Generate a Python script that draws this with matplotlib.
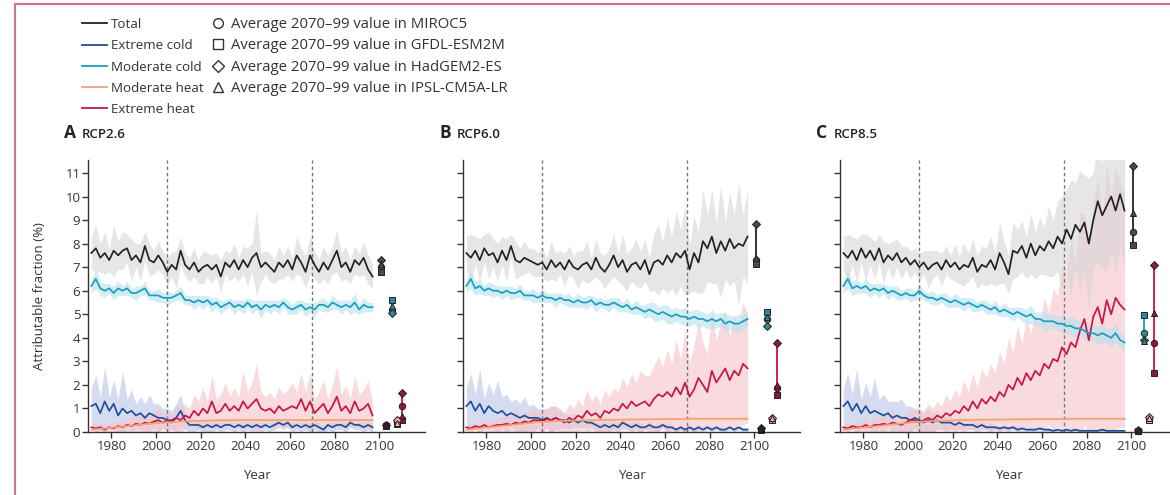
import numpy as np
import matplotlib
matplotlib.use("Agg")
import matplotlib.pyplot as plt
from matplotlib.lines import Line2D
from matplotlib.patches import Rectangle

plt.rcParams['font.family'] = ['Open Sans', 'DejaVu Sans']

# years of the annual series (every second year)
years = np.arange(1971, 2098, 2)

# ---------------- RCP2.6 ----------------
total_a = [7.6, 7.8, 7.4, 7.6, 7.3, 7.7, 7.5, 7.7,
           7.8, 7.3, 7.5, 7.2, 7.9, 7.3, 7.2, 7.5,
           7.2, 6.8, 7.1, 6.9, 7.7, 7.1, 6.9, 7.2,
           6.8, 7.0, 7.1, 6.9, 7.1, 6.6, 7.2, 7.0,
           7.3, 6.9, 7.3, 7.0, 7.4, 7.6, 7.0, 7.2,
           7.0, 6.8, 7.2, 7.0, 7.3, 6.9, 7.5, 7.2,
           6.8, 7.5, 7.1, 6.8, 7.2, 6.9, 7.3, 7.7,
           7.0, 7.2, 6.8, 7.3, 7.1, 7.4, 6.9, 6.6]
total_a_sd = [0.7, 1.0, 0.6, 0.9, 0.5, 1.1, 0.6, 0.8,
              0.6, 0.9, 0.5, 0.8, 0.6, 0.7, 0.5, 0.6,
              0.5, 0.6, 0.5, 0.8, 0.6, 0.5, 0.5, 0.6,
              0.5, 0.7, 0.5, 0.6, 0.5, 0.7, 0.5, 0.6,
              0.7, 0.5, 0.6, 0.8, 0.6, 1.8, 0.6, 0.5,
              0.6, 0.5, 0.7, 0.5, 0.6, 0.5, 0.8, 0.6,
              0.7, 0.8, 0.6, 0.5, 0.7, 0.6, 0.6, 0.9,
              0.6, 0.7, 0.5, 0.6, 0.5, 0.7, 0.6, 0.5]
ecold_a = [1.1, 1.2, 0.8, 1.3, 0.9, 1.2, 0.7, 1.0,
           0.8, 0.9, 0.7, 0.8, 0.6, 0.8, 0.7, 0.6,
           0.6, 0.5, 0.5, 0.6, 0.9, 0.5, 0.3, 0.3,
           0.3, 0.2, 0.3, 0.2, 0.3, 0.2, 0.3, 0.3,
           0.2, 0.3, 0.2, 0.3, 0.2, 0.3, 0.2, 0.3,
           0.2, 0.3, 0.4, 0.3, 0.4, 0.2, 0.3, 0.2,
           0.3, 0.2, 0.3, 0.2, 0.1, 0.3, 0.2, 0.3,
           0.3, 0.2, 0.4, 0.3, 0.3, 0.2, 0.3, 0.2]
ecold_a_sd = [0.8, 1.2, 0.7, 1.5, 0.6, 1.0, 0.7, 1.6,
              0.6, 0.9, 0.5, 0.7, 0.6, 0.8, 0.5, 0.6,
              0.4, 0.5, 0.4, 0.6, 0.7, 0.4, 0.3, 0.3,
              0.2, 0.2, 0.3, 0.2, 0.2, 0.2, 0.2, 0.2,
              0.2, 0.2, 0.2, 0.2, 0.2, 0.2, 0.2, 0.2,
              0.2, 0.2, 0.2, 0.2, 0.2, 0.2, 0.2, 0.2,
              0.2, 0.2, 0.2, 0.2, 0.2, 0.2, 0.2, 0.2,
              0.2, 0.2, 0.2, 0.2, 0.2, 0.2, 0.2, 0.2]
mcold_a = [6.2, 6.5, 6.1, 6.0, 6.1, 5.9, 6.1, 6.0,
           6.1, 5.9, 5.9, 6.0, 6.1, 5.8, 5.8, 5.8,
           5.7, 5.7, 5.7, 5.8, 5.9, 5.6, 5.6, 5.5,
           5.6, 5.5, 5.6, 5.4, 5.5, 5.3, 5.4, 5.5,
           5.3, 5.4, 5.3, 5.5, 5.3, 5.4, 5.2, 5.4,
           5.3, 5.4, 5.3, 5.5, 5.3, 5.2, 5.3, 5.4,
           5.2, 5.3, 5.2, 5.4, 5.4, 5.3, 5.5, 5.4,
           5.3, 5.4, 5.3, 5.5, 5.2, 5.4, 5.3, 5.3]
mcold_a_sd = [0.3, 0.4, 0.3, 0.3, 0.2, 0.3, 0.3, 0.2,
              0.3, 0.2, 0.3, 0.2, 0.3, 0.2, 0.2, 0.3,
              0.2, 0.3, 0.2, 0.2, 0.3, 0.2, 0.2, 0.3,
              0.2, 0.3, 0.2, 0.3, 0.2, 0.3, 0.2, 0.2,
              0.3, 0.2, 0.3, 0.2, 0.3, 0.2, 0.4, 0.2,
              0.3, 0.2, 0.3, 0.2, 0.3, 0.2, 0.3, 0.2,
              0.3, 0.2, 0.3, 0.2, 0.3, 0.2, 0.3, 0.2,
              0.3, 0.2, 0.3, 0.4, 0.2, 0.3, 0.2, 0.2]
mheat_a = [0.10, 0.12, 0.14, 0.15, 0.17, 0.19, 0.21, 0.23,
           0.25, 0.27, 0.29, 0.31, 0.33, 0.35, 0.37, 0.38,
           0.40, 0.41, 0.42, 0.43, 0.44, 0.45, 0.46, 0.47,
           0.47, 0.48, 0.48, 0.49, 0.49, 0.50, 0.50, 0.50,
           0.50, 0.50, 0.51, 0.50, 0.51, 0.50, 0.51, 0.50,
           0.50, 0.51, 0.50, 0.51, 0.50, 0.51, 0.50, 0.51,
           0.50, 0.51, 0.50, 0.51, 0.50, 0.51, 0.50, 0.51,
           0.50, 0.51, 0.50, 0.51, 0.50, 0.51, 0.50, 0.50]
mheat_a_sd = [0.05] * 8 + [0.08] * 8 + [0.10] * 48
eheat_a = [0.20, 0.15, 0.20, 0.10, 0.20, 0.15, 0.25, 0.20,
           0.30, 0.25, 0.35, 0.30, 0.40, 0.35, 0.45, 0.50,
           0.40, 0.50, 0.40, 0.60, 0.50, 0.70, 0.60, 0.90,
           0.70, 1.00, 0.80, 1.30, 0.80, 0.90, 1.20, 0.90,
           1.10, 0.90, 1.30, 1.00, 1.20, 1.40, 1.00, 0.90,
           1.00, 0.80, 1.10, 0.90, 1.00, 1.10, 1.00, 1.40,
           0.90, 1.30, 0.80, 1.00, 1.20, 0.80, 1.10, 1.50,
           0.90, 1.10, 0.80, 1.30, 0.90, 1.00, 1.20, 0.70]
eheat_a_sd = [0.1, 0.2, 0.1, 0.2, 0.2, 0.3, 0.2, 0.3,
              0.3, 0.4, 0.3, 0.5, 0.3, 0.4, 0.4, 0.5,
              0.3, 0.4, 0.3, 0.5, 0.6, 0.5, 0.4, 0.7,
              0.6, 0.9, 0.5, 1.1, 0.6, 0.7, 0.9, 0.6,
              0.8, 0.6, 1.3, 0.7, 0.9, 1.5, 0.7, 0.6,
              0.7, 0.6, 0.8, 0.7, 0.8, 1.0, 0.7, 1.1,
              0.8, 1.2, 0.6, 0.7, 1.0, 0.6, 0.9, 1.3,
              0.7, 0.9, 0.6, 1.1, 0.7, 0.8, 1.0, 0.6]

# ---------------- RCP6.0 ----------------
total_b = [7.6, 7.4, 7.7, 7.3, 7.8, 7.5, 7.6, 7.2,
           7.7, 7.3, 7.9, 7.3, 7.2, 7.4, 7.3, 7.2,
           7.1, 7.2, 6.9, 7.3, 7.0, 7.2, 6.9, 7.3,
           7.0, 6.9, 7.1, 7.2, 6.9, 7.4, 7.0, 6.8,
           7.1, 7.5, 7.0, 7.3, 6.8, 7.1, 7.2, 6.9,
           7.3, 6.7, 7.2, 7.3, 7.1, 7.5, 7.2, 7.6,
           7.4, 7.7, 6.9, 7.6, 7.2, 8.1, 7.8, 8.3,
           7.6, 8.1, 7.7, 8.2, 7.8, 8.0, 7.9, 8.3]
total_b_sd = [0.7, 1.0, 0.6, 0.9, 0.6, 1.0, 0.6, 0.8,
              0.6, 0.9, 0.5, 0.8, 0.6, 0.7, 0.5, 0.6,
              0.5, 0.6, 0.5, 0.8, 0.6, 0.5, 0.7, 0.6,
              0.5, 0.8, 0.6, 0.9, 0.5, 0.8, 0.6, 0.7,
              0.7, 0.9, 0.6, 1.1, 0.8, 0.7, 1.0, 0.8,
              0.9, 0.7, 1.2, 1.5, 1.0, 1.6, 1.1, 1.8,
              1.2, 1.9, 1.0, 1.6, 1.3, 2.2, 1.4, 2.0,
              1.3, 2.4, 1.2, 2.0, 1.4, 2.6, 1.3, 2.0]
ecold_b = [1.1, 1.3, 0.9, 1.2, 0.8, 1.1, 0.9, 0.8,
           0.9, 0.7, 0.8, 0.7, 0.6, 0.7, 0.6, 0.6,
           0.6, 0.5, 0.6, 0.5, 0.6, 0.5, 0.5, 0.4,
           0.5, 0.4, 0.5, 0.4, 0.4, 0.3, 0.2, 0.3,
           0.2, 0.3, 0.2, 0.4, 0.3, 0.2, 0.3, 0.2,
           0.2, 0.3, 0.2, 0.2, 0.3, 0.2, 0.2, 0.1,
           0.2, 0.1, 0.2, 0.1, 0.2, 0.1, 0.2, 0.1,
           0.2, 0.1, 0.1, 0.2, 0.1, 0.2, 0.1, 0.1]
ecold_b_sd = [0.8, 1.2, 0.7, 1.5, 0.6, 1.0, 0.7, 1.4,
              0.6, 0.9, 0.5, 0.7, 0.6, 0.8, 0.5, 0.6,
              0.4, 0.5, 0.4, 0.6, 0.5, 0.4, 0.3, 0.3,
              0.3, 0.2, 0.3, 0.2, 0.2, 0.2, 0.2, 0.2,
              0.2, 0.2, 0.2, 0.2, 0.2, 0.2, 0.2, 0.2,
              0.1, 0.2, 0.1, 0.2, 0.1, 0.2, 0.1, 0.1,
              0.1, 0.1, 0.1, 0.1, 0.1, 0.1, 0.1, 0.1,
              0.1, 0.1, 0.1, 0.1, 0.1, 0.1, 0.1, 0.1]
mcold_b = [6.2, 6.5, 6.1, 6.2, 6.0, 6.1, 6.0, 6.0,
           5.9, 6.0, 5.9, 5.9, 6.0, 5.8, 5.8, 5.8,
           5.7, 5.8, 5.7, 5.7, 5.6, 5.7, 5.6, 5.6,
           5.5, 5.6, 5.5, 5.5, 5.6, 5.4, 5.5, 5.4,
           5.4, 5.5, 5.4, 5.3, 5.4, 5.2, 5.3, 5.2,
           5.1, 5.2, 5.1, 5.0, 5.1, 5.0, 4.9, 5.0,
           4.9, 4.9, 4.8, 4.9, 4.8, 4.8, 4.7, 4.8,
           4.7, 4.8, 4.6, 4.7, 4.6, 4.6, 4.7, 4.8]
mcold_b_sd = [0.3, 0.4, 0.3, 0.3, 0.2, 0.3, 0.3, 0.2,
              0.3, 0.2, 0.3, 0.2, 0.3, 0.2, 0.2, 0.3,
              0.2, 0.3, 0.2, 0.2, 0.3, 0.2, 0.2, 0.3,
              0.2, 0.3, 0.2, 0.3, 0.2, 0.3, 0.2, 0.2,
              0.3, 0.2, 0.3, 0.2, 0.3, 0.2, 0.3, 0.2,
              0.3, 0.3, 0.4, 0.3, 0.3, 0.4, 0.3, 0.3,
              0.3, 0.4, 0.3, 0.3, 0.4, 0.3, 0.3, 0.4,
              0.3, 0.3, 0.4, 0.3, 0.3, 0.4, 0.3, 0.3]
mheat_b = [0.10, 0.12, 0.14, 0.16, 0.18, 0.20, 0.22, 0.24,
           0.26, 0.28, 0.30, 0.32, 0.34, 0.36, 0.38, 0.40,
           0.42, 0.43, 0.44, 0.45, 0.46, 0.47, 0.47, 0.48,
           0.48, 0.49, 0.49, 0.50, 0.50, 0.50, 0.51, 0.51,
           0.51, 0.52, 0.52, 0.52, 0.53, 0.53, 0.53, 0.53,
           0.54, 0.54, 0.54, 0.54, 0.55, 0.55, 0.55, 0.55,
           0.55, 0.55, 0.56, 0.56, 0.56, 0.56, 0.56, 0.56,
           0.56, 0.56, 0.56, 0.56, 0.56, 0.56, 0.56, 0.56]
mheat_b_sd = [0.05] * 8 + [0.08] * 8 + [0.10] * 48
eheat_b = [0.20, 0.15, 0.25, 0.20, 0.30, 0.20, 0.25, 0.30,
           0.30, 0.35, 0.30, 0.40, 0.35, 0.45, 0.40, 0.50,
           0.50, 0.45, 0.55, 0.50, 0.60, 0.50, 0.40, 0.60,
           0.50, 0.70, 0.60, 0.90, 0.70, 0.80, 0.60, 0.90,
           0.80, 1.00, 0.90, 1.20, 1.00, 1.30, 1.10, 1.20,
           1.30, 1.10, 1.40, 1.60, 1.50, 1.70, 1.50, 1.90,
           1.60, 2.10, 1.50, 1.80, 2.30, 2.00, 1.70, 2.60,
           2.10, 2.40, 2.70, 2.20, 2.60, 2.40, 2.90, 2.70]
eheat_b_sd = [0.1, 0.2, 0.1, 0.2, 0.2, 0.3, 0.2, 0.3,
              0.3, 0.4, 0.3, 0.5, 0.3, 0.4, 0.4, 0.5,
              0.4, 0.5, 0.4, 0.6, 0.5, 0.5, 0.4, 0.6,
              0.5, 0.7, 0.5, 0.9, 0.6, 0.8, 0.6, 0.9,
              0.7, 0.9, 0.8, 1.1, 0.9, 1.2, 1.0, 1.4,
              1.1, 1.3, 1.4, 1.6, 1.3, 1.8, 1.4, 2.0,
              1.5, 2.2, 1.4, 1.9, 2.4, 1.8, 1.6, 2.5,
              1.8, 2.3, 2.5, 1.9, 2.4, 2.1, 2.6, 2.3]

# ---------------- RCP8.5 ----------------
total_c = [7.6, 7.4, 7.7, 7.3, 7.8, 7.4, 7.7, 7.3,
           7.8, 7.2, 7.5, 7.3, 7.6, 7.2, 7.4, 7.1,
           7.3, 7.0, 7.2, 6.9, 7.1, 7.2, 6.9, 7.3,
           7.0, 7.2, 6.9, 7.1, 7.0, 7.4, 6.8, 7.1,
           7.0, 7.3, 6.9, 7.6, 7.2, 6.7, 7.7, 7.6,
           7.9, 7.4, 8.0, 7.5, 7.9, 7.7, 8.1, 7.8,
           8.3, 8.0, 8.6, 8.2, 8.8, 8.5, 8.9, 8.0,
           9.0, 9.8, 9.2, 9.6, 10.0, 9.4, 10.1, 9.4]
total_c_sd = [0.7, 1.0, 0.6, 0.9, 0.6, 1.0, 0.6, 0.8,
              0.6, 0.9, 0.5, 0.8, 0.6, 0.7, 0.5, 0.6,
              0.5, 0.6, 0.5, 0.8, 0.6, 0.5, 0.7, 0.6,
              0.5, 0.8, 0.6, 0.9, 0.6, 0.8, 0.7, 0.8,
              0.8, 1.0, 0.7, 1.3, 0.9, 0.8, 1.2, 1.0,
              1.1, 0.9, 1.3, 1.0, 1.2, 1.0, 1.5, 1.2,
              1.5, 2.0, 1.7, 2.5, 1.8, 2.6, 2.0, 2.8,
              2.0, 2.6, 2.2, 2.8, 2.3, 2.7, 2.2, 2.4]
ecold_c = [1.1, 1.3, 0.9, 1.2, 0.8, 1.1, 0.8, 0.9,
           0.8, 0.7, 0.8, 0.6, 0.7, 0.6, 0.6, 0.5,
           0.6, 0.5, 0.4, 0.5, 0.4, 0.5, 0.4, 0.4,
           0.4, 0.3, 0.4, 0.3, 0.3, 0.3, 0.2, 0.3,
           0.2, 0.2, 0.2, 0.15, 0.2, 0.15, 0.2, 0.1,
           0.15, 0.1, 0.1, 0.1, 0.15, 0.1, 0.1, 0.05,
           0.1, 0.05, 0.1, 0.05, 0.1, 0.05, 0.05, 0.05,
           0.05, 0.05, 0.1, 0.05, 0.05, 0.05, 0.05, 0.05]
ecold_c_sd = [0.8, 1.2, 0.7, 1.5, 0.6, 1.0, 0.7, 1.4,
              0.6, 0.9, 0.5, 0.7, 0.6, 0.8, 0.5, 0.6,
              0.4, 0.5, 0.4, 0.5, 0.4, 0.4, 0.3, 0.3,
              0.3, 0.2, 0.3, 0.2, 0.2, 0.2, 0.2, 0.2,
              0.1, 0.2, 0.1, 0.1, 0.1, 0.1, 0.1, 0.1,
              0.1, 0.1, 0.1, 0.1, 0.1, 0.1, 0.1, 0.05,
              0.05, 0.05, 0.05, 0.05, 0.05, 0.05, 0.05, 0.05,
              0.05, 0.05, 0.05, 0.05, 0.05, 0.05, 0.05, 0.05]
mcold_c = [6.2, 6.5, 6.1, 6.2, 6.1, 6.2, 6.0, 6.1,
           6.0, 6.1, 5.9, 6.0, 5.9, 5.8, 5.9, 5.8,
           5.8, 6.0, 5.8, 5.7, 5.7, 5.6, 5.7, 5.6,
           5.5, 5.6, 5.5, 5.4, 5.5, 5.4, 5.3, 5.4,
           5.3, 5.2, 5.3, 5.1, 5.2, 5.1, 5.0, 5.1,
           5.0, 4.9, 5.0, 4.8, 4.8, 4.7, 4.7, 4.7,
           4.6, 4.6, 4.5, 4.5, 4.4, 4.4, 4.3, 4.2,
           4.2, 4.1, 4.2, 4.1, 4.0, 4.2, 3.9, 3.8]
mcold_c_sd = [0.3, 0.4, 0.3, 0.3, 0.2, 0.3, 0.3, 0.2,
              0.3, 0.2, 0.3, 0.2, 0.3, 0.2, 0.2, 0.3,
              0.2, 0.3, 0.2, 0.2, 0.3, 0.2, 0.2, 0.3,
              0.2, 0.3, 0.2, 0.3, 0.2, 0.3, 0.2, 0.2,
              0.3, 0.2, 0.3, 0.2, 0.3, 0.2, 0.3, 0.2,
              0.3, 0.3, 0.4, 0.3, 0.3, 0.4, 0.3, 0.3,
              0.3, 0.4, 0.3, 0.4, 0.4, 0.3, 0.4, 0.4,
              0.3, 0.4, 0.4, 0.3, 0.4, 0.4, 0.3, 0.3]
mheat_c = [0.10, 0.12, 0.14, 0.16, 0.18, 0.20, 0.22, 0.24,
           0.26, 0.28, 0.30, 0.32, 0.34, 0.36, 0.38, 0.40,
           0.42, 0.43, 0.44, 0.45, 0.46, 0.47, 0.48, 0.49,
           0.49, 0.50, 0.50, 0.51, 0.51, 0.51, 0.52, 0.52,
           0.52, 0.52, 0.53, 0.53, 0.53, 0.53, 0.54, 0.54,
           0.54, 0.54, 0.54, 0.55, 0.55, 0.55, 0.55, 0.55,
           0.55, 0.55, 0.55, 0.56, 0.56, 0.56, 0.56, 0.56,
           0.56, 0.56, 0.56, 0.56, 0.56, 0.56, 0.56, 0.56]
mheat_c_sd = [0.05] * 8 + [0.08] * 8 + [0.10] * 48
eheat_c = [0.20, 0.15, 0.25, 0.20, 0.20, 0.30, 0.20, 0.30,
           0.30, 0.35, 0.30, 0.40, 0.35, 0.30, 0.40, 0.50,
           0.50, 0.40, 0.50, 0.60, 0.50, 0.70, 0.60, 0.80,
           0.70, 0.90, 0.80, 1.10, 0.90, 1.30, 1.00, 1.40,
           1.20, 1.50, 1.30, 1.70, 1.50, 2.00, 1.80, 2.30,
           2.00, 2.50, 2.20, 2.60, 2.40, 2.90, 2.70, 3.10,
           3.00, 3.60, 3.30, 3.80, 3.60, 4.30, 4.80, 3.90,
           4.90, 5.30, 4.60, 5.60, 5.00, 5.70, 5.40, 5.20]
eheat_c_sd = [0.1, 0.2, 0.1, 0.2, 0.2, 0.3, 0.2, 0.3,
              0.3, 0.4, 0.3, 0.5, 0.3, 0.4, 0.4, 0.5,
              0.4, 0.5, 0.4, 0.6, 0.5, 0.6, 0.5, 0.8,
              0.6, 0.9, 0.7, 1.1, 0.8, 1.2, 0.9, 1.3,
              1.1, 1.4, 1.2, 1.7, 1.4, 2.0, 1.6, 2.2,
              1.8, 2.3, 2.0, 2.4, 2.2, 2.8, 2.4, 3.0,
              2.8, 3.5, 3.4, 4.5, 3.6, 5.0, 4.5, 4.0,
              4.8, 5.5, 4.6, 5.8, 5.0, 5.6, 5.2, 5.0]

# averages 2070-99 per GCM: MIROC5, GFDL-ESM2M, HadGEM2-ES, IPSL-CM5A-LR
gcm_names = ['MIROC5', 'GFDL-ESM2M', 'HadGEM2-ES', 'IPSL-CM5A-LR']
gcm_a = {'total': [7.0, 6.8, 7.3, 7.15], 'ecold': [0.3, 0.25, 0.3, 0.28],
         'mcold': [5.2, 5.6, 5.05, 5.35], 'mheat': [0.45, 0.35, 0.5, 0.4],
         'eheat': [1.1, 0.5, 1.65, 0.7]}
gcm_b = {'total': [7.3, 7.15, 8.85, 7.4], 'ecold': [0.12, 0.1, 0.15, 0.12],
         'mcold': [4.8, 5.1, 4.5, 4.9], 'mheat': [0.55, 0.5, 0.6, 0.6],
         'eheat': [1.85, 1.55, 3.8, 2.0]}
gcm_c = {'total': [8.5, 7.95, 11.3, 9.3], 'ecold': [0.05, 0.05, 0.08, 0.06],
         'mcold': [4.2, 4.95, 3.9, 3.85], 'mheat': [0.55, 0.5, 0.65, 0.6],
         'eheat': [3.8, 2.5, 7.1, 5.05]}

panels = [('A', 'RCP2.6',
           {'total': (total_a, total_a_sd), 'ecold': (ecold_a, ecold_a_sd),
            'mcold': (mcold_a, mcold_a_sd), 'mheat': (mheat_a, mheat_a_sd),
            'eheat': (eheat_a, eheat_a_sd)}, gcm_a),
          ('B', 'RCP6.0',
           {'total': (total_b, total_b_sd), 'ecold': (ecold_b, ecold_b_sd),
            'mcold': (mcold_b, mcold_b_sd), 'mheat': (mheat_b, mheat_b_sd),
            'eheat': (eheat_b, eheat_b_sd)}, gcm_b),
          ('C', 'RCP8.5',
           {'total': (total_c, total_c_sd), 'ecold': (ecold_c, ecold_c_sd),
            'mcold': (mcold_c, mcold_c_sd), 'mheat': (mheat_c, mheat_c_sd),
            'eheat': (eheat_c, eheat_c_sd)}, gcm_c)]

labels = {'total': 'Total', 'ecold': 'Extreme cold', 'mcold': 'Moderate cold',
          'mheat': 'Moderate heat', 'eheat': 'Extreme heat'}
line_col = {'total': '#222222', 'ecold': '#1d4f9a', 'mcold': '#1aa0bd',
            'mheat': '#f2a27a', 'eheat': '#c8163f'}
band_col = {'total': '#d6d6d6', 'ecold': '#bcc6e6', 'mcold': '#b4e2ef',
            'mheat': '#f9d8c4', 'eheat': '#f6c2c9'}
mark_fill = {'total': '#4a4a4a', 'ecold': '#1e2a44', 'mcold': '#2a8c95',
             'mheat': '#e7b4b4', 'eheat': '#8c1c3c'}
mark_x = {'total': 2101, 'ecold': 2103, 'mcold': 2105.5, 'mheat': 2108,
          'eheat': 2110}
markers = ['o', 's', 'D', '^']
order = ['ecold', 'eheat', 'mheat', 'mcold', 'total']

fig = plt.figure(figsize=(11.7, 4.95), dpi=100)
txt = '#333333'

lefts = [88 / 1170, 463 / 1170, 840 / 1170]
for i, (letter, rcp, series, gcm) in enumerate(panels):
    ax = fig.add_axes([lefts[i], 63 / 495, 337 / 1170, 272 / 495])
    for key in order:
        vals, sd = np.array(series[key][0]), np.array(series[key][1])
        ax.fill_between(years, vals - sd, vals + sd, color=band_col[key],
                        alpha=0.6, lw=0, zorder=1)
    for key in order:
        ax.plot(years, series[key][0], color=line_col[key], lw=1.25,
                zorder=3)
    for xv in (2005, 2070):
        ax.axvline(xv, color='#777777', lw=1, ls=(0, (2.5, 2)), zorder=2)
    # GCM averages at the right
    for key in order:
        vals = gcm[key]
        xm = mark_x[key]
        ax.plot([xm, xm], [min(vals), max(vals)], color=line_col[key],
                lw=1.3, zorder=4, clip_on=False)
        for v, m in zip(vals, markers):
            ax.plot(xm, v, marker=m, ms=4.6 if m != 'D' else 4.0,
                    mfc=mark_fill[key], mec='#2b1b22', mew=0.7,
                    ls='none', zorder=5, clip_on=False)

    ax.set_xlim(1969.5, 2120.5)
    ax.set_ylim(0, 11.55)
    ax.set_xticks([1980, 2000, 2020, 2040, 2060, 2080, 2100])
    ax.set_yticks(range(0, 12))
    for s in ('top', 'right'):
        ax.spines[s].set_visible(False)
    for s in ('left', 'bottom'):
        ax.spines[s].set_color('#333333')
        ax.spines[s].set_linewidth(1.0)
    ax.tick_params(direction='out', length=4, width=1, color='#333333',
                   labelcolor=txt, labelsize=9.5, pad=1.5)
    if i == 0:
        ax.set_ylabel('Attributable fraction (%)', fontsize=9.5, color=txt,
                      labelpad=14)
    else:
        ax.set_yticklabels([])
    ax.set_xlabel('Year', fontsize=9.5, color=txt, labelpad=12)
    ax.text(-0.07, 1.10, letter, transform=ax.transAxes, fontsize=12.5,
            fontweight='bold', color='#222222', va='center', ha='left')
    ax.text(-0.02, 1.095, rcp, transform=ax.transAxes, fontsize=9.5,
            fontweight='semibold', color='#222222', va='center', ha='left')

# legends
h1 = [Line2D([], [], color=line_col[k], lw=1.3) for k in labels]
fig.legend(h1, list(labels.values()), loc='upper left',
           bbox_to_anchor=(82 / 1170, 1 - 18 / 495), frameon=False,
           fontsize=9.6, handlelength=1.9, handletextpad=0.3,
           labelspacing=0.62, borderpad=0, borderaxespad=0, labelcolor=txt)
h2 = [Line2D([], [], marker=m, ls='none', mfc='white', mec='#333333',
             mew=1, ms=7 if m != 'D' else 6) for m in markers]
fig.legend(h2, ['Average 2070\u201399 value in ' + g for g in gcm_names],
           loc='upper left', bbox_to_anchor=(211 / 1170, 1 - 17 / 495),
           frameon=False, fontsize=10.7, handlelength=0.9,
           handletextpad=0.45, labelspacing=0.43, borderpad=0,
           borderaxespad=0, labelcolor=txt)

# page frame
fig.patches.append(Rectangle((15 / 1170, -0.05), 1.2, 1.05 - 4 / 495,
                             transform=fig.transFigure, fill=False,
                             edgecolor='#c27896', lw=1.6, zorder=0))

fig.savefig('out.png', dpi=100)
